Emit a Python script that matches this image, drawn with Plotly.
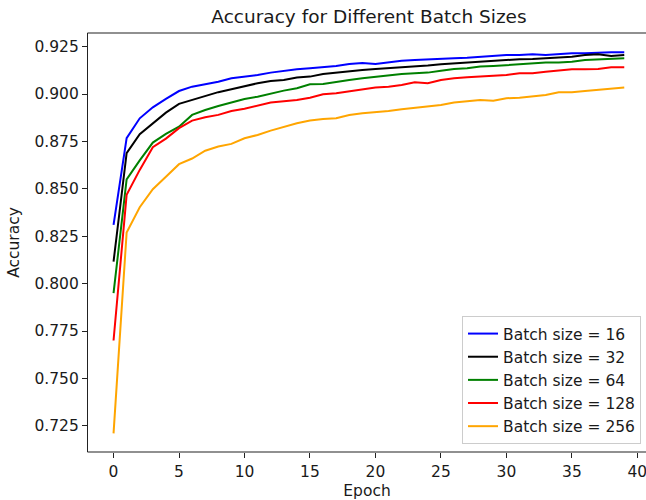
import plotly.graph_objects as go

epochs = list(range(40))

acc_16 = [0.831, 0.8767, 0.8872, 0.893, 0.8975, 0.9016, 0.9039, 0.9053, 0.9065, 0.9083,
          0.9092, 0.9100, 0.9113, 0.9123, 0.9131, 0.9136, 0.9141, 0.9148, 0.9159, 0.9164,
          0.9159, 0.9168, 0.9176, 0.9180, 0.9184, 0.9187, 0.9189, 0.9192, 0.9197, 0.9203,
          0.9206, 0.9206, 0.9210, 0.9206, 0.9212, 0.9215, 0.9215, 0.9218, 0.9220, 0.9220]
acc_32 = [0.8116, 0.8688, 0.8788, 0.8846, 0.8902, 0.8948, 0.8969, 0.8990, 0.9010, 0.9025,
          0.9043, 0.9057, 0.9069, 0.9074, 0.9087, 0.9092, 0.9106, 0.9113, 0.9122, 0.9127,
          0.9132, 0.9136, 0.9140, 0.9145, 0.9150, 0.9157, 0.9162, 0.9166, 0.9169, 0.9175,
          0.9180, 0.9184, 0.9185, 0.9189, 0.9194, 0.9197, 0.9206, 0.9210, 0.9201, 0.9206]
acc_64 = [0.795, 0.855, 0.865, 0.8744, 0.8790, 0.8828, 0.8890, 0.8916, 0.8937, 0.8955,
          0.8974, 0.8986, 0.9004, 0.9018, 0.9031, 0.9052, 0.9053, 0.9065, 0.9074, 0.9083,
          0.9092, 0.9097, 0.9106, 0.9110, 0.9113, 0.9123, 0.9132, 0.9136, 0.9145, 0.9148,
          0.9153, 0.9157, 0.9162, 0.9166, 0.9166, 0.9171, 0.9180, 0.9184, 0.9185, 0.9189]
acc_128 = [0.770, 0.8468, 0.860, 0.872, 0.8765, 0.882, 0.886, 0.8878, 0.889, 0.8911,
           0.8923, 0.8937, 0.8955, 0.8962, 0.8969, 0.8981, 0.8999, 0.9004, 0.9013, 0.9025,
           0.9034, 0.9039, 0.9048, 0.9062, 0.9057, 0.9074, 0.9083, 0.9088, 0.9092, 0.9095,
           0.9101, 0.9110, 0.9110, 0.9118, 0.9123, 0.9131, 0.9131, 0.9132, 0.9141, 0.9141]
acc_256 = [0.721, 0.8269, 0.8403, 0.8498, 0.8564, 0.8630, 0.866, 0.8701, 0.8723, 0.8737,
           0.8767, 0.8784, 0.8807, 0.8828, 0.8846, 0.8860, 0.8869, 0.8872, 0.8889, 0.8899,
           0.8904, 0.8911, 0.8920, 0.8928, 0.8937, 0.8942, 0.8955, 0.8960, 0.8969, 0.8965,
           0.8978, 0.8981, 0.8986, 0.8995, 0.9010, 0.9010, 0.9016, 0.9022, 0.9031, 0.9034]

series_names = ["Batch size = 16", "Batch size = 32", "Batch size = 64",
                "Batch size = 128", "Batch size = 256"]
series_values = [acc_16, acc_32, acc_64, acc_128, acc_256]
series_colors = ["#0000ff", "#000000", "#008000", "#ff0000", "#ffa500"]

x_ticks = [0, 5, 10, 15, 20, 25, 30, 35, 40]
y_ticks = [0.725, 0.750, 0.775, 0.800, 0.825, 0.850, 0.875, 0.900, 0.925]

FONT = "DejaVu Sans"
TXT = "#1a1a1a"
SPINE = "#222222"

fig = go.Figure()
for name, vals, col in zip(series_names, series_values, series_colors):
    fig.add_trace(go.Scatter(
        x=epochs, y=vals, mode="lines", name=name, legendgroup=name,
        line=dict(color=col, width=2),
    ))

# mask any edge line at the cropped right side of the plot area
fig.add_shape(type="rect", xref="paper", yref="paper", x0=0.99, x1=1.02, y0=0.002, y1=0.998,
              fillcolor="white", line=dict(width=0), layer="above")
# top and bottom spines (right spine lies outside the cropped picture)
for yy in (0, 1):
    fig.add_shape(type="line", xref="paper", yref="paper", x0=-0.001, x1=1.02, y0=yy, y1=yy,
                  line=dict(color=SPINE, width=1.2), layer="above")

fig.update_layout(
    width=646, height=500,
    margin=dict(l=88, r=0, t=33, b=48, autoexpand=False),
    paper_bgcolor="white", plot_bgcolor="white",
    font=dict(family=FONT, size=15.5, color=TXT),
    title=dict(text="Accuracy for Different Batch Sizes", x=369 / 646, xanchor="center",
               y=1 - 17 / 500, yanchor="middle", font=dict(size=18.5, color=TXT)),
    showlegend=True,
    legend=dict(
        x=(641 - 88) / 558, xref="paper", xanchor="right",
        y=(452 - 444) / 419, yanchor="bottom",
        bgcolor="rgba(255,255,255,0.85)", bordercolor="#cccccc", borderwidth=1,
        font=dict(size=15.5, color=TXT),
        traceorder="grouped", tracegroupgap=0,
    ),
    xaxis=dict(
        range=[-1.95, 40.66], tickmode="array", tickvals=x_ticks,
        ticktext=[str(v) for v in x_ticks], ticklabeloverflow="allow",
        showgrid=False, zeroline=False, automargin=False,
        showline=False,
        ticks="outside", ticklen=5, tickwidth=1, tickcolor=SPINE,
        title=dict(text="Epoch", standoff=6, font=dict(size=15.5, color=TXT)),
    ),
    yaxis=dict(
        range=[0.7112, 0.9322], tickmode="array", tickvals=y_ticks,
        ticktext=[f"{v:.3f}" for v in y_ticks],
        showgrid=False, zeroline=False, automargin=False,
        showline=True, linecolor=SPINE, linewidth=1.2, mirror=False,
        ticks="outside", ticklen=5, tickwidth=1, tickcolor=SPINE,
        title=dict(text="Accuracy", standoff=10, font=dict(size=15.5, color=TXT)),
    ),
)

fig.write_html("out.html")
